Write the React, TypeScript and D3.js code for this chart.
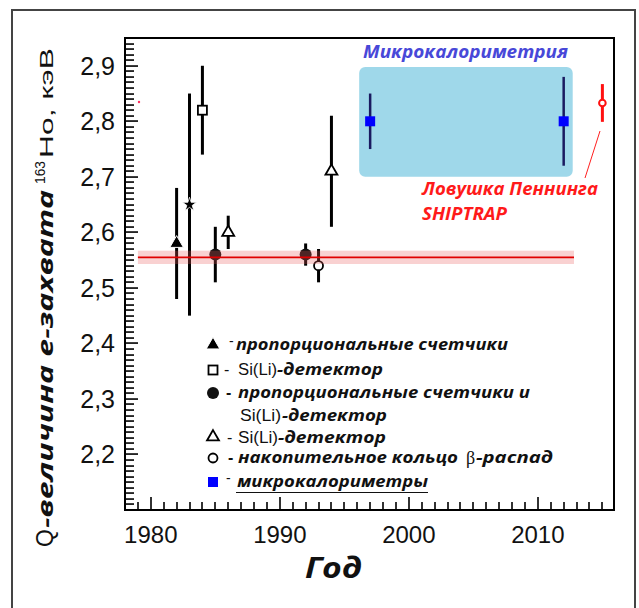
import React from "react";
import * as d3 from "d3";

// ---- data ----
const years = [1982, 1983, 1984, 1985, 1986, 1992, 1993, 1994, 1997, 2012, 2015];
const qValues = [2.58, 2.65, 2.82, 2.56, 2.6, 2.56, 2.54, 2.71, 2.8, 2.8, 2.833];
const qErrors = [0.1, 0.2, 0.08, 0.05, 0.03, 0.02, 0.03, 0.1, 0.05, 0.08, 0.034];
const markerKinds = [
  "triangleFilled",
  "star",
  "squareOpen",
  "circleFilled",
  "triangleOpen",
  "circleFilled",
  "circleOpen",
  "triangleOpen",
  "squareBlue",
  "squareBlue",
  "circleRed",
];
const refLineValue = [2.555];
const refBand = [2.543, 2.567];
const refYears = [1979, 2012.8];
const microBoxYears = [1996.15, 2012.7];
const microBoxValues = [2.7, 2.898];
const xTicks = [1980, 1990, 2000, 2010];
const yTicks = [2.2, 2.3, 2.4, 2.5, 2.6, 2.7, 2.8, 2.9];
const xTickLabels = ["1980", "1990", "2000", "2010"];
const yTickLabels = ["2,2", "2,3", "2,4", "2,5", "2,6", "2,7", "2,8", "2,9"];
const yMinorTicks = d3.range(210, 296, 1);
const xMinorTicks = d3.range(1979, 2016, 1);

const legendSymbols = ["triangleFilled", "squareOpen", "circleFilled", "triangleOpen", "circleOpen", "squareBlue"];
const legendTexts = [
  "пропорциональные счетчики",
  "-детектор",
  "пропорциональные счетчики и",
  "-детектор",
  "накопительное кольцо",
  "микрокалориметры",
];
const siLiText = "Si(Li)";
const betaText = ["β", "-распад"];
const microTitle = "Микрокалориметрия";
const penningLabel = ["Ловушка Пеннинга", "SHIPTRAP"];
const yLabelParts = ["Q", "-величина e-захвата", "163", "Ho, кэВ"];
const xLabel = "Год";

const SANS = "'Liberation Sans', Arial, sans-serif";
const BI = "'Open Sans', 'Noto Sans', sans-serif";
const SERIF = "'Liberation Serif', 'DejaVu Serif', serif";

function Marker({ kind, cx, cy }: { kind: string; cx: number; cy: number }) {
  const tri = (s: number) => d3.symbol().type(d3.symbolTriangle).size(s)() as string;
  switch (kind) {
    case "triangleFilled":
      return <path d={tri(80)} transform={`translate(${cx},${cy})`} fill="#000" stroke="#fff" strokeWidth={1} />;
    case "triangleOpen":
      return <path d={tri(62)} transform={`translate(${cx},${cy})`} fill="#fff" stroke="#000" strokeWidth={1.8} />;
    case "star":
      return (
        <path
          d={d3.symbol().type(d3.symbolStar).size(60)() as string}
          transform={`translate(${cx},${cy})`}
          fill="#000"
          stroke="#fff"
          strokeWidth={0.8}
        />
      );
    case "squareOpen":
      return <rect x={cx - 4.5} y={cy - 4.5} width={9} height={9} fill="#fff" stroke="#000" strokeWidth={1.8} />;
    case "circleFilled":
      return <circle cx={cx} cy={cy} r={6} fill="#111" />;
    case "circleOpen":
      return <circle cx={cx} cy={cy} r={4.5} fill="#fff" stroke="#000" strokeWidth={1.8} />;
    case "squareBlue":
      return <rect x={cx - 5} y={cy - 5} width={10} height={10} fill="#0000ff" />;
    case "circleRed":
      return <circle cx={cx} cy={cy} r={3.3} fill="#fff" stroke="#ff1010" strokeWidth={2} />;
    default:
      return null;
  }
}

export default function App() {
  const W = 639;
  const H = 608;
  const L = 125,
    R = 614,
    T = 38,
    B = 510;
  const x = d3.scaleLinear().domain([1978, 2015.9]).range([L, R]);
  const y = d3.scaleLinear().domain([2.1, 2.95]).range([B, T]);

  const barColor = (k: string) => (k === "squareBlue" ? "#1a1a60" : k === "circleRed" ? "#ff1010" : "#000");
  const barWidth = (k: string) => (k === "squareBlue" ? 2.5 : 3);

  const legendX = 213;
  const legendRows = [345, 370, 393, 437, 458, 482];

  const biProps = { fontFamily: BI, fontStyle: "italic", fontWeight: "bold", fill: "#111", lengthAdjust: "spacingAndGlyphs" } as const;

  return (
    <svg
      width={W}
      height={H}
      style={{ position: "absolute", left: 0, top: 0, background: "#fff" }}
      fontFamily={SANS}
    >
      {/* outer frame */}
      <rect x={12} y={10} width={623} height={620} fill="none" stroke="#444" strokeWidth={2} />

      {/* microcalorimetry box */}
      <rect
        x={x(microBoxYears[0])}
        y={y(microBoxValues[1])}
        width={x(microBoxYears[1]) - x(microBoxYears[0])}
        height={y(microBoxValues[0]) - y(microBoxValues[1])}
        rx={6}
        fill="#9fd8ea"
      />
      <text x={363} y={58} {...biProps} fontSize={18} fill="#4848d8" textLength={205}>
        {microTitle}
      </text>

      {/* error bars and markers */}
      {years.map((yr, i) => (
        <line
          key={"e" + i}
          x1={x(yr)}
          x2={x(yr)}
          y1={y(qValues[i] + qErrors[i])}
          y2={y(qValues[i] - qErrors[i])}
          stroke={barColor(markerKinds[i])}
          strokeWidth={barWidth(markerKinds[i])}
        />
      ))}
      {years.map((yr, i) => (
        <Marker key={"m" + i} kind={markerKinds[i]} cx={x(yr)} cy={y(qValues[i])} />
      ))}

      {/* reference band + line */}
      <rect
        x={x(refYears[0])}
        y={y(refBand[1])}
        width={x(refYears[1]) - x(refYears[0])}
        height={y(refBand[0]) - y(refBand[1])}
        fill="rgba(235,90,90,0.28)"
      />
      <line
        x1={x(refYears[0])}
        x2={x(refYears[1])}
        y1={y(refLineValue[0])}
        y2={y(refLineValue[0])}
        stroke="#e00000"
        strokeWidth={1.6}
      />

      {/* Penning trap label + connector */}
      <line x1={585} y1={178} x2={600} y2={131} stroke="#ff2020" strokeWidth={1} />
      <text x={422} y={195} {...biProps} fontSize={18} fill="#ff1a1a" textLength={176}>
        {penningLabel[0]}
      </text>
      <text x={422} y={220} {...biProps} fontSize={18} fill="#ff1a1a" textLength={85}>
        {penningLabel[1]}
      </text>
      <circle cx={139} cy={102} r={1.2} fill="#ff3060" />

      {/* plot frame */}
      <rect x={L} y={T} width={R - L} height={B - T} fill="none" stroke="#000" strokeWidth={2} />

      {/* ticks */}
      {yMinorTicks.map((v) => (
        <rect
          key={"yt" + v}
          x={L}
          y={Math.round(y(v / 100)) - 0.75}
          width={v % 10 === 0 ? 13 : 9}
          height={1.6}
          fill="#000"
        />
      ))}
      {xMinorTicks.map((v) => (
        <rect
          key={"xt" + v}
          x={Math.round(x(v)) - 0.8}
          y={B - (v % 10 === 0 ? 13 : 8)}
          width={1.6}
          height={v % 10 === 0 ? 13 : 8}
          fill="#000"
        />
      ))}

      {yTicks.map((v, i) => (
        <text key={"yl" + i} x={115} y={y(v) + 9} textAnchor="end" fontSize={25} fill="#111">
          {yTickLabels[i]}
        </text>
      ))}
      {xTicks.map((v, i) => (
        <text key={"xl" + i} x={x(v)} y={543} textAnchor="middle" fontSize={24} fill="#111">
          {xTickLabels[i]}
        </text>
      ))}

      {/* axis labels */}
      <text x={305} y={578} {...biProps} fontSize={28} textLength={57}>
        {xLabel}
      </text>
      <g transform="rotate(-90)">
        <text x={-547} y={53} fontSize={23} fill="#111">
          {yLabelParts[0]}
        </text>
        <text x={-528} y={53} {...biProps} fontSize={22} textLength={338}>
          {yLabelParts[1]}
        </text>
        <text x={-184} y={45} fontSize={14} fill="#111" textLength={23} lengthAdjust="spacingAndGlyphs">
          {yLabelParts[2]}
        </text>
        <text x={-158} y={53} fontSize={19} fill="#111" textLength={110} lengthAdjust="spacingAndGlyphs">
          {yLabelParts[3]}
        </text>
      </g>

      {/* legend */}
      {legendSymbols.map((k, i) => (
        <Marker key={"ls" + i} kind={k} cx={legendX} cy={legendRows[i]} />
      ))}
      <text x={229} y={346} fontSize={14} fill="#111">-</text>
      <text x={236} y={350} {...biProps} fontSize={16} textLength={272}>
        {legendTexts[0]}
      </text>
      <text x={224} y={375} fontSize={16} fill="#111">-</text>
      <text x={238} y={375} fontSize={16} fill="#111" textLength={39} lengthAdjust="spacingAndGlyphs">
        {siLiText}
      </text>
      <text x={277} y={375} {...biProps} fontSize={16} textLength={106}>
        {legendTexts[1]}
      </text>
      <text x={226} y={398} fontSize={16} fontWeight="bold" fill="#111">-</text>
      <text x={238} y={398} {...biProps} fontSize={16} textLength={292}>
        {legendTexts[2]}
      </text>
      <text x={240} y={421} fontSize={16} fill="#111" textLength={41} lengthAdjust="spacingAndGlyphs">
        {siLiText}
      </text>
      <text x={282} y={421} {...biProps} fontSize={16} textLength={105}>
        {legendTexts[3]}
      </text>
      <text x={227} y={443} fontSize={16} fill="#111">-</text>
      <text x={238} y={443} fontSize={16} fill="#111" textLength={40} lengthAdjust="spacingAndGlyphs">
        {siLiText}
      </text>
      <text x={278} y={443} {...biProps} fontSize={16} textLength={108}>
        {legendTexts[3]}
      </text>
      <text x={228} y={463} fontSize={16} fontWeight="bold" fill="#111">-</text>
      <text x={238} y={463} {...biProps} fontSize={16} textLength={220}>
        {legendTexts[4]}
      </text>
      <text x={466} y={464} fontFamily={SERIF} fontSize={18} fill="#111">
        {betaText[0]}
      </text>
      <text x={476} y={463} {...biProps} fontSize={16} textLength={77}>
        {betaText[1]}
      </text>
      <text x={226} y={483} fontSize={14} fill="#111">-</text>
      <text x={237} y={487} {...biProps} fontSize={16} textLength={191}>
        {legendTexts[5]}
      </text>
      <line x1={236} x2={428} y1={492.5} y2={492.5} stroke="#111" strokeWidth={1.2} />
    </svg>
  );
}
